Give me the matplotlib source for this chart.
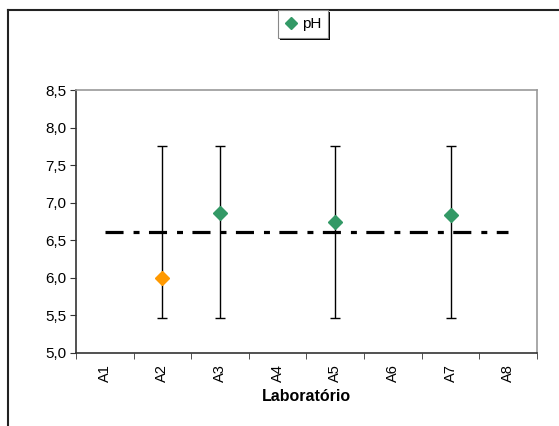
import numpy as np
import matplotlib
matplotlib.use("Agg")
import matplotlib.pyplot as plt
from matplotlib.lines import Line2D

plt.rcParams['font.family'] = ['Liberation Sans', 'DejaVu Sans']
plt.rcParams['lines.scale_dashes'] = False

labs = ["A1", "A2", "A3", "A4", "A5", "A6", "A7", "A8"]
ph = [np.nan, 6.00, 6.86, np.nan, 6.74, np.nan, 6.84, np.nan]
ph_colors = ["#339966", "#FF9900", "#339966", "#339966", "#339966", "#339966", "#339966", "#339966"]
ref_value = 6.61
err_low = [np.nan, 5.46, 5.46, np.nan, 5.46, np.nan, 5.46, np.nan]
err_high = [np.nan, 7.76, 7.76, np.nan, 7.76, np.nan, 7.76, np.nan]
yticks = [5.0, 5.5, 6.0, 6.5, 7.0, 7.5, 8.0, 8.5]

fig = plt.figure(figsize=(5.59, 4.26), dpi=100)
ax = fig.add_axes([0.136, 0.1714, 0.8246, 0.6173])

x = np.arange(len(labs))

# error bars (around reference value)
for xi, lo, hi in zip(x, err_low, err_high):
    if np.isnan(lo):
        continue
    ax.errorbar([xi], [ref_value], yerr=[[ref_value - lo], [hi - ref_value]],
                fmt='none', ecolor='black', elinewidth=1.0, capsize=3.4, capthick=1.0, zorder=2)

# reference dash-dot line
ax.plot([x[0], x[-1]], [ref_value, ref_value], color='black', lw=2.3,
        dashes=(13, 7.2, 4.3, 6.8), zorder=3)

# points
for xi, v, c in zip(x, ph, ph_colors):
    if np.isnan(v):
        continue
    ax.plot([xi], [v], marker='D', color=c, markersize=7, linestyle='none', zorder=4)

ax.set_xlim(-0.5, len(labs) - 0.5)
ax.set_ylim(5.0, 8.5)
ax.set_yticks(yticks)
ax.set_yticklabels([f"{t:.1f}".replace('.', ',') for t in yticks], fontsize=11)
ax.set_xticks(x)
ax.set_xticklabels(labs, rotation=90, fontsize=10.5)
ax.set_xticks(np.arange(len(labs) + 1) - 0.5, minor=True)
ax.tick_params(axis='x', which='major', length=0, pad=8)
ax.tick_params(axis='x', which='minor', length=4, direction='out', color='#333333')
ax.tick_params(axis='y', length=4, direction='out', color='#333333', pad=3)
ax.set_xlabel("Laboratório", fontsize=11.5, fontweight='bold', labelpad=5)

for s in ['left', 'bottom']:
    ax.spines[s].set_color('#333333')
    ax.spines[s].set_linewidth(1.2)
for s in ['top', 'right']:
    ax.spines[s].set_color('#999999')
    ax.spines[s].set_linewidth(1.2)

# legend
h = Line2D([], [], marker='D', color='#339966', linestyle='none', markersize=6.5)
leg = fig.legend([h], ['pH'], loc='upper left', bbox_to_anchor=(278 / 559, 1 - 10 / 426),
                 frameon=True, fontsize=11, handlelength=0.8, handletextpad=0.3,
                 borderpad=0.45, fancybox=False, shadow=False, borderaxespad=0,
                 framealpha=1.0)
leg.get_frame().set_edgecolor('#888888')
leg.get_frame().set_facecolor('white')
leg.get_frame().set_linewidth(0.8)

# shadow for legend (right side)
fig.canvas.draw()
bb = leg.get_window_extent().transformed(fig.transFigure.inverted())
fig.add_artist(plt.Rectangle((bb.x0 + 0.004, bb.y0 - 0.005), bb.width, bb.height,
                             transform=fig.transFigure, facecolor='black', edgecolor='none', zorder=leg.get_zorder() - 1))
leg.set_zorder(10)

# figure border (top and left)
fig.add_artist(Line2D([8 / 559, 1.0], [1 - 10 / 426, 1 - 10 / 426], transform=fig.transFigure,
                      color='#222222', lw=1.5))
fig.add_artist(Line2D([8 / 559, 8 / 559], [0, 1 - 10 / 426], transform=fig.transFigure,
                      color='#222222', lw=1.5))

fig.savefig("out.png", dpi=100)
